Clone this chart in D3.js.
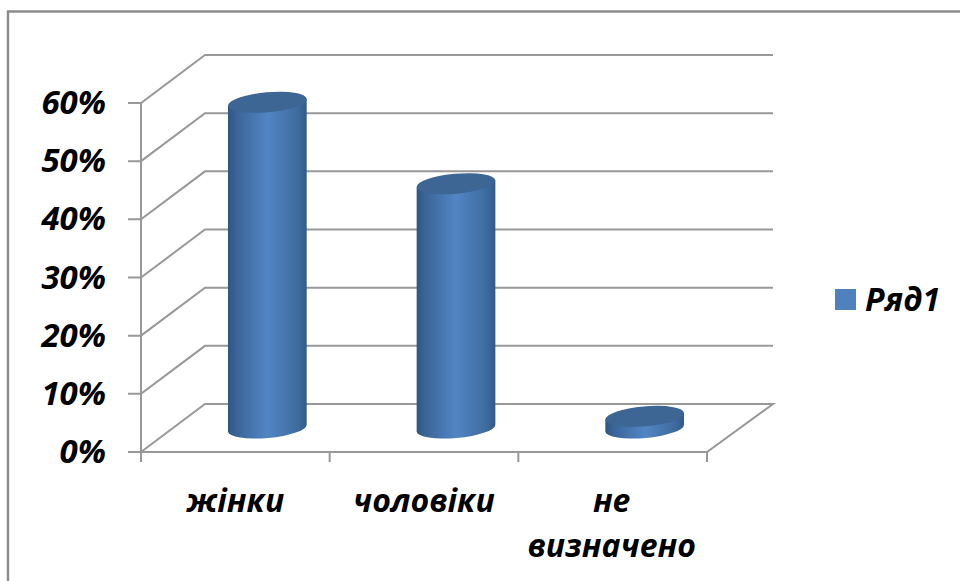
<!DOCTYPE html>
<html><head><meta charset="utf-8">
<script src="https://cdn.jsdelivr.net/npm/d3@7/dist/d3.min.js"></script>
<style>html,body{margin:0;padding:0;background:#fff}svg{display:block}
text{font-family:"Open Sans",Lato,sans-serif;font-weight:700;font-style:italic;fill:#000}</style>
</head><body><svg id="c" width="960" height="581"></svg>
<script>
const categories = ["жінки", "чоловіки", "не|визначено"];
const seriesName = "Ряд1";
const values = [56, 42, 2];
const yTicks = [0, 10, 20, 30, 40, 50, 60];

const svg = d3.select("#c");
const defs = svg.append("defs");
const grad = defs.append("linearGradient").attr("id", "side");
[[0, "#2f5582"], [0.1, "#3a6496"], [0.5, "#5285c5"], [0.88, "#3f6c9f"], [1, "#315a88"]].forEach(([o, c]) =>
  grad.append("stop").attr("offset", o).attr("stop-color", c));

const x0 = 141, x1 = 707, y0 = 452, y60 = 103, dx = 64, dy = 48;
const x = d3.scaleBand().domain(categories).range([x0, x1]);
const y = d3.scaleLinear().domain([0, 60]).range([y0, y60]);
const grey = "#989898";

// frame
svg.append("path").attr("d", "M8,581V11.5H960").attr("fill", "none").attr("stroke", "#8c8c8c").attr("stroke-width", 2.4);

const grid = svg.append("g").attr("fill", "none").attr("stroke", grey).attr("stroke-width", 2);
yTicks.forEach(t => {
  const p = y(t);
  grid.append("path").attr("d", `M${x0 - 13},${p}H${x0}L${x0 + dx},${p - dy}H${x1 + dx + 2}`)
    .attr("stroke", t === 0 ? "none" : grey);
});
// floor and axes
grid.append("path").attr("d", `M${x0 - 13},${y0}H${x1}L${x1 + dx + 2},${y0 - dy}H${x0 + dx}L${x0},${y0}`);
grid.append("path").attr("d", `M${x0},${y(60)}V${y0 + 10}`);
x.domain().forEach(c => grid.append("path").attr("d", `M${x(c) + x.bandwidth()},${y0}V${y0 + 10}`));

// cylinders
const rx = 39.5, ry = 10, rot = -5;
const ex = rx * Math.cos(rot * Math.PI / 180), ey = rx * Math.sin(rot * Math.PI / 180);
const bars = svg.append("g");
categories.forEach((c, i) => {
  const cx = x(c) + x.bandwidth() / 2 + dx / 2;
  const base = y(0) - dy / 2, top = y(values[i]) - dy / 2;
  bars.append("path")
    .attr("d", `M${cx - ex},${top - ey}L${cx - ex},${base - ey}A${rx},${ry} ${rot} 0 0 ${cx + ex},${base + ey}L${cx + ex},${top + ey}Z`)
    .attr("fill", "url(#side)");
  bars.append("ellipse").attr("rx", rx).attr("ry", ry)
    .attr("transform", `translate(${cx},${top}) rotate(${rot})`)
    .attr("fill", "#3d6695");
});

// tick labels
svg.append("g").selectAll("text").data(yTicks).join("text")
  .attr("x", 106).attr("y", d => y(d) + 11)
  .attr("text-anchor", "end").attr("font-size", 33)
  .text(d => d + "%");

categories.forEach(c => {
  const parts = c.split("|");
  parts.forEach((s, j) => svg.append("text")
    .attr("x", x(c) + x.bandwidth() / 2 - (parts.length > 1 ? 1 : 0))
    .attr("y", 512 + j * 45)
    .attr("text-anchor", "middle").attr("font-size", 32).text(s));
});

// legend
svg.append("rect").attr("x", 835).attr("y", 289).attr("width", 21).attr("height", 21).attr("fill", "#4f81bd");
svg.append("text").attr("x", 865).attr("y", 311).attr("font-size", 32).text(seriesName);
</script></body></html>
